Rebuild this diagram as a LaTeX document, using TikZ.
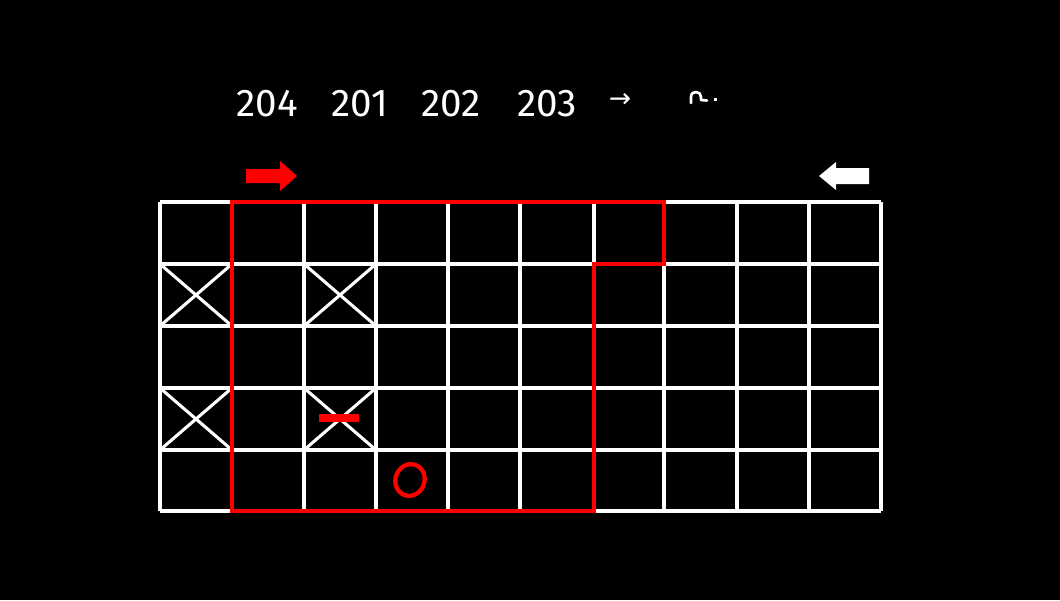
\documentclass[tikz,border=0pt]{standalone}
\usepackage{fontspec}
\setmainfont{Fira Sans}
\newfontfamily\symfont{DejaVu Sans}
\begin{document}
\begin{tikzpicture}[x=0.75pt,y=-0.75pt,
  gridline/.style={draw=white,line width=2.3pt},
  redline/.style={draw=red,line width=2.5pt},
  lbl/.style={text=white,font=\fontsize{29}{30}\selectfont,inner sep=0pt,anchor=center}]
\fill[black] (0,0) rectangle (1060,600);
\useasboundingbox (0,0) rectangle (1060,600);
% grid
\def\xs{{160,232,304,376,448,520,594,664,737,809,881}}
\def\ys{{202,264,326,388,450,511}}
\foreach \i in {0,...,10} {\pgfmathsetmacro\xx{\xs[\i]}\draw[gridline] (\xx,202) -- (\xx,511);}
\foreach \j in {0,...,5} {\pgfmathsetmacro\yy{\ys[\j]}\draw[gridline] (160,\yy) -- (881,\yy);}
% crosses
\draw[gridline] (160,264) -- (232,326) (232,264) -- (160,326);
\draw[gridline] (304,264) -- (376,326) (376,264) -- (304,326);
\draw[gridline] (160,388) -- (232,450) (232,388) -- (160,450);
\draw[gridline] (304,388) -- (376,450) (376,388) -- (304,450);
% red region
\draw[redline] (232,202) -- (664,202) -- (664,264) -- (594,264) -- (594,511) -- (232,511) -- cycle;
% red marks
\fill[red] (319,414) rectangle (359,422);
\draw[red,line width=3.2pt,rotate around={-20:(410,480)}] (410,480) ellipse [x radius=14.5, y radius=16];
% arrows
\fill[red] (246,169) -- (280,169) -- (280,161) -- (297,176) -- (280,191) -- (280,183) -- (246,183) -- cycle;
\fill[white] (869,168) -- (836,168) -- (836,162) -- (819,176) -- (836,190) -- (836,184) -- (869,184) -- cycle;
% labels
\node[lbl] (t1) at (267,104) {204};
\node[lbl] (t2) at (360,104) {201};
\node[lbl] (t3) at (451,104) {202};
\node[lbl] (t4) at (547,104) {203};
\node[text=white,font=\symfont\fontsize{20}{20}\selectfont,inner sep=0pt] (t5) at (620,100) {→};
\draw[white,line width=2pt,line cap=round,line join=round] (691,103) -- (691,97) .. controls (691,93) and (694,92) .. (696,92) .. controls (699,92) and (701,94) .. (701,97) -- (701,100) -- (707,100.5);
\fill[white] (714,98) rectangle (717,101);
\end{tikzpicture}
\end{document}
